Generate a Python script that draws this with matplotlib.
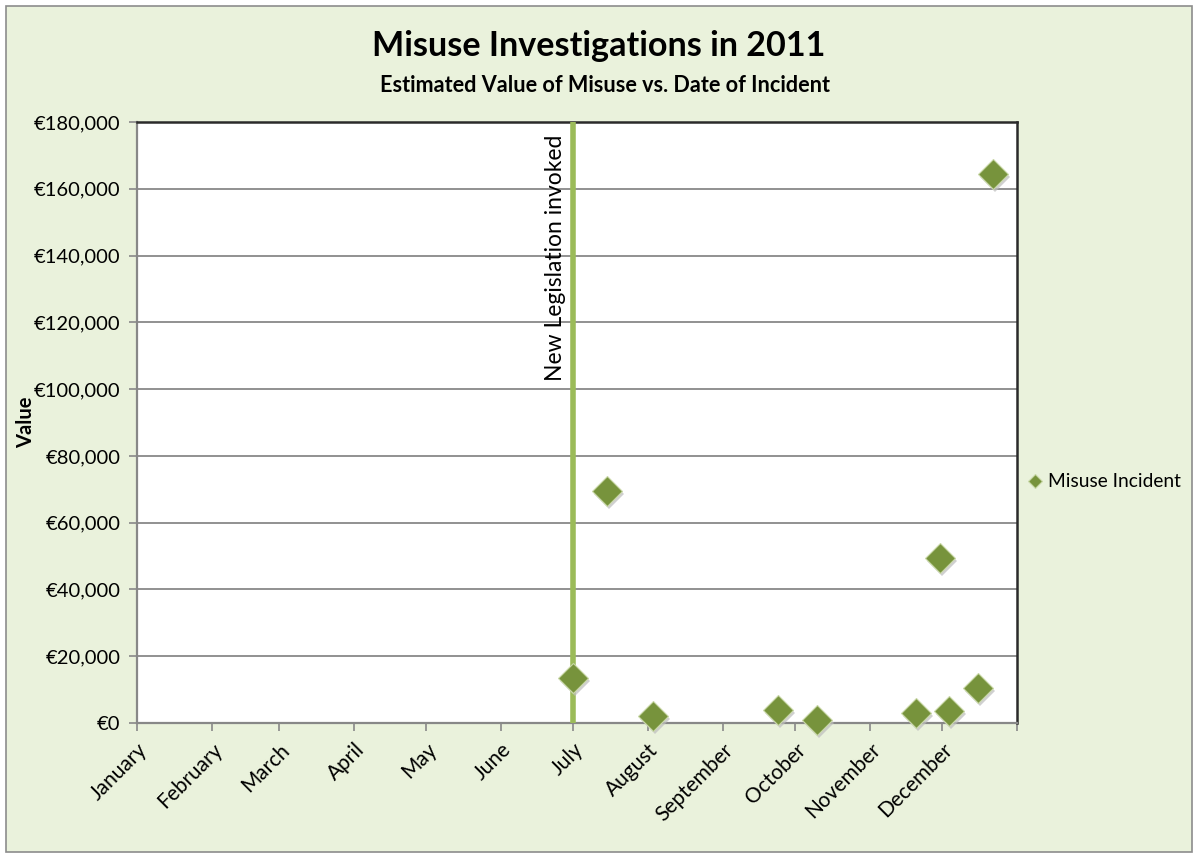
import datetime as dt
import matplotlib
matplotlib.use("Agg")
import matplotlib.pyplot as plt
from matplotlib.ticker import FuncFormatter, MultipleLocator
from matplotlib.patches import Rectangle
import matplotlib.transforms as mtransforms

# Incident dates and estimated misuse values (EUR)
incident_dates = ["2011-07-01", "2011-07-15", "2011-08-03", "2011-09-24", "2011-10-10",
                  "2011-11-20", "2011-11-30", "2011-12-04", "2011-12-16", "2011-12-22"]
incident_values = [13500, 69500, 2000, 4000, 1000, 3000, 49500, 3500, 10500, 164500]
legislation_date = "2011-07-01"
month_labels = ["January", "February", "March", "April", "May", "June", "July",
                "August", "September", "October", "November", "December", ""]

title = "Misuse Investigations in 2011"
subtitle = "Estimated Value of Misuse vs. Date of Incident"

FONT = ["Lato", "DejaVu Sans"]
plt.rcParams["font.family"] = FONT

BG = "#EAF2DC"
MARKER = "#77933C"
LINE = "#9BBB59"
GRID = "#888888"

W, H = 1198, 858
fig = plt.figure(figsize=(W / 100, H / 100), dpi=100, facecolor="white")

# chart area with border
fig.patches.append(Rectangle((6 / W, 6 / H), (W - 12) / W, (H - 12) / H,
                             transform=fig.transFigure, facecolor=BG,
                             edgecolor="#8C8C8C", linewidth=1.2, zorder=-10))

left, right, top, bottom = 137, 1017, 122, 723
ax = fig.add_axes([left / W, 1 - bottom / H, (right - left) / W, (bottom - top) / H])
ax.set_facecolor("white")

dates = [dt.datetime.strptime(d, "%Y-%m-%d") for d in incident_dates]
leg_date = dt.datetime.strptime(legislation_date, "%Y-%m-%d")

ax.set_xlim(dt.datetime(2011, 1, 1), dt.datetime(2012, 1, 1))
ax.set_ylim(0, 180000)

# axes styling
ax.yaxis.set_major_locator(MultipleLocator(20000))
ax.yaxis.set_major_formatter(FuncFormatter(lambda v, p: "€{:,.0f}".format(v)))
ax.grid(axis="y", color=GRID, linewidth=1.3, zorder=0)
ax.set_axisbelow(True)

month_ticks = [dt.datetime(2011, m, 1) for m in range(1, 13)] + [dt.datetime(2012, 1, 1)]
ax.set_xticks(month_ticks)
ax.set_xticklabels(month_labels, rotation=45, ha="right", va="top",
                   rotation_mode="anchor", fontsize=15)
ax.tick_params(axis="x", length=6, width=1.2, color=GRID, pad=6)
ax.tick_params(axis="y", length=6, width=1.2, color=GRID, labelsize=14.5, pad=6)

for side in ("left", "bottom"):
    ax.spines[side].set_color(GRID)
    ax.spines[side].set_linewidth(1.6)
for side in ("top", "right"):
    ax.spines[side].set_color("#2A2A2A")
    ax.spines[side].set_linewidth(1.8)

# legislation marker line
ax.axvline(leg_date, color=LINE, linewidth=4, zorder=3)
ax.annotate("New Legislation invoked", xy=(leg_date, 1.0),
            xycoords=("data", "axes fraction"), xytext=(-7, -13),
            textcoords="offset pixels", rotation=90, ha="right", va="top",
            fontsize=16.5, color="black")

# shadows beneath the markers
shadow = mtransforms.offset_copy(ax.transData, fig=fig, x=2, y=-3, units="dots")
ax.plot(dates, incident_values, linestyle="none", marker="D", markersize=15,
        color="#BDBDBD", alpha=0.7, markeredgewidth=0, transform=shadow,
        zorder=4, clip_on=False)
ax.plot(dates, incident_values, linestyle="none", marker="D", markersize=15,
        markerfacecolor=MARKER, markeredgecolor="#C9D8A8", markeredgewidth=0.8,
        zorder=5, clip_on=False, label="Misuse Incident")

ax.set_ylabel("Value", fontsize=14.5, fontweight="bold")
ax.yaxis.set_label_coords(-(left - 36) / (right - left), 0.5)

# titles
fig.text(599 / W, 1 - 46 / H, title, ha="center", va="center",
         fontsize=24.6, fontweight="bold")
fig.text(605 / W, 1 - 85 / H, subtitle, ha="center", va="center",
         fontsize=15.6, fontweight="bold")

# legend
leg = fig.legend(handles=[ax.lines[-1]], labels=["Misuse Incident"],
                 loc="center left", bbox_to_anchor=(1022 / W, 1 - 482 / H),
                 frameon=False, fontsize=13.8, handlelength=0.6,
                 handletextpad=0.35, markerscale=0.45, borderaxespad=0)

fig.savefig("out.png", dpi=100, facecolor="white")
